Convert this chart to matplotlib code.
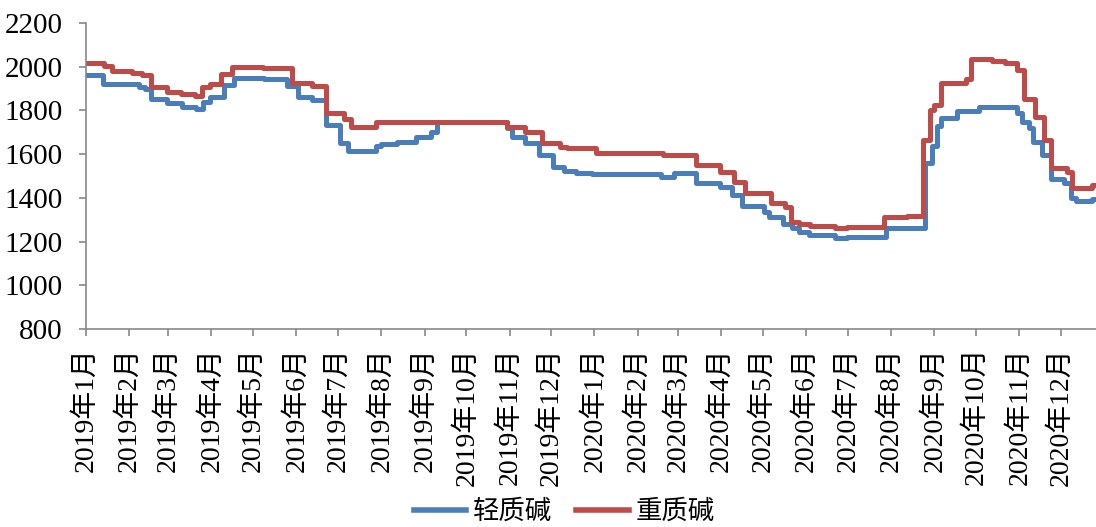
import matplotlib
matplotlib.use("Agg")
import matplotlib.pyplot as plt
import pandas as pd

light_dates = ["2019-01-01","2019-01-13","2019-02-08","2019-02-12","2019-02-17","2019-02-28",
               "2019-03-11","2019-03-21","2019-03-26","2019-03-31","2019-04-10","2019-04-17",
               "2019-05-09","2019-05-25","2019-06-02","2019-06-12","2019-06-22","2019-07-02",
               "2019-07-08","2019-07-28","2019-08-01","2019-08-12","2019-08-26","2019-09-06",
               "2019-09-10","2019-10-30","2019-11-03","2019-11-12","2019-11-22","2019-12-02",
               "2019-12-10","2019-12-19","2019-12-30","2020-02-18","2020-02-27","2020-03-14",
               "2020-03-31","2020-04-09","2020-04-16","2020-05-02","2020-05-05","2020-05-15",
               "2020-05-22","2020-05-27","2020-06-03","2020-06-22","2020-06-30","2020-07-28",
               "2020-08-25","2020-08-30","2020-09-03","2020-09-06","2020-09-17","2020-10-03",
               "2020-10-30","2020-11-03","2020-11-08","2020-11-11","2020-11-17","2020-11-24",
               "2020-12-03","2020-12-08","2020-12-12","2020-12-23","2020-12-26"]
light_vals = [1960,1920,1905,1900,1850,1835,
              1815,1805,1840,1860,1915,1950,
              1945,1910,1860,1848,1735,1650,
              1615,1635,1647,1656,1680,1700,
              1745,1720,1680,1650,1597,1542,
              1523,1514,1509,1496,1514,1468,
              1450,1413,1363,1336,1313,1281,
              1262,1244,1230,1216,1221,1262,
              1560,1638,1729,1766,1798,1816,
              1789,1748,1720,1656,1597,1487,
              1468,1400,1386,1395,1395]

heavy_dates = ["2019-01-01","2019-01-14","2019-01-20","2019-02-03","2019-02-10","2019-02-17",
               "2019-02-28","2019-03-10","2019-03-20","2019-03-25","2019-03-31","2019-04-08",
               "2019-04-16","2019-05-08","2019-05-29","2019-06-12","2019-06-22","2019-07-05",
               "2019-07-10","2019-07-28","2019-10-30","2019-11-12","2019-11-24","2019-12-07",
               "2019-12-12","2020-01-02","2020-02-19","2020-03-14","2020-03-31","2020-04-10",
               "2020-04-18","2020-05-07","2020-05-17","2020-05-21","2020-05-27","2020-06-04",
               "2020-06-22","2020-06-30","2020-07-27","2020-08-12","2020-08-24","2020-08-29",
               "2020-09-01","2020-09-06","2020-09-24","2020-09-27","2020-10-12","2020-10-22",
               "2020-10-30","2020-11-04","2020-11-12","2020-11-19","2020-11-24","2020-12-05",
               "2020-12-09","2020-12-23","2020-12-26"]
heavy_vals = [2015,2005,1980,1970,1960,1905,
              1885,1875,1865,1905,1920,1965,
              2000,1995,1925,1910,1790,1760,
              1725,1745,1725,1700,1651,1633,
              1628,1606,1597,1551,1519,1473,
              1420,1377,1358,1290,1281,1271,
              1262,1267,1313,1317,1665,1802,
              1825,1926,1944,2036,2027,2017,
              1985,1853,1770,1665,1537,1519,
              1445,1460,1460]

series_names = ["轻质碱", "重质碱"]
tick_months = pd.date_range("2019-01-01", "2020-12-01", freq="MS")
tick_labels = [f"{d.year}年{d.month}月" for d in tick_months]
y_ticks = [800, 1000, 1200, 1400, 1600, 1800, 2000, 2200]

FONT = ["Liberation Serif", "Noto Sans CJK SC", "DejaVu Sans"]
plt.rcParams["font.family"] = FONT

fig = plt.figure(figsize=(10.96, 5.27), dpi=100)
ax = fig.add_axes([86/1096, (527-329)/527, 1 - 86/1096, (329-23)/527])

blue = "#4A7EBB"
red = "#BE4B48"
ax.plot(pd.to_datetime(light_dates), light_vals, drawstyle="steps-post",
        color=blue, lw=3.6, label=series_names[0], solid_joinstyle="round")
ax.plot(pd.to_datetime(heavy_dates), heavy_vals, drawstyle="steps-post",
        color=red, lw=3.6, label=series_names[1], solid_joinstyle="round")

ax.set_xlim(pd.Timestamp("2019-01-01"), pd.Timestamp("2020-12-26"))
ax.set_ylim(800, 2200)
ax.set_yticks(y_ticks)
ax.set_yticklabels([str(v) for v in y_ticks], fontsize=21)
ax.set_xticks(tick_months)
ax.set_xticklabels(tick_labels, rotation=90, fontsize=20, va="top", ha="center")

for s in ["top", "right"]:
    ax.spines[s].set_visible(False)
for s in ["left", "bottom"]:
    ax.spines[s].set_color("#888888")
    ax.spines[s].set_linewidth(1.2)
ax.tick_params(axis="both", direction="out", length=5, width=1.2, color="#888888",
               labelcolor="black")
ax.tick_params(axis="y", pad=12)
ax.tick_params(axis="x", pad=8)

leg = fig.legend(loc="center", bbox_to_anchor=(564/1096, 1 - 512/527), ncol=2,
                 frameon=False, fontsize=19, handlelength=2.0, handletextpad=0.25,
                 columnspacing=0.9, borderpad=0.1)
for line in leg.get_lines():
    line.set_linewidth(4)

fig.savefig("out.png", dpi=100)
